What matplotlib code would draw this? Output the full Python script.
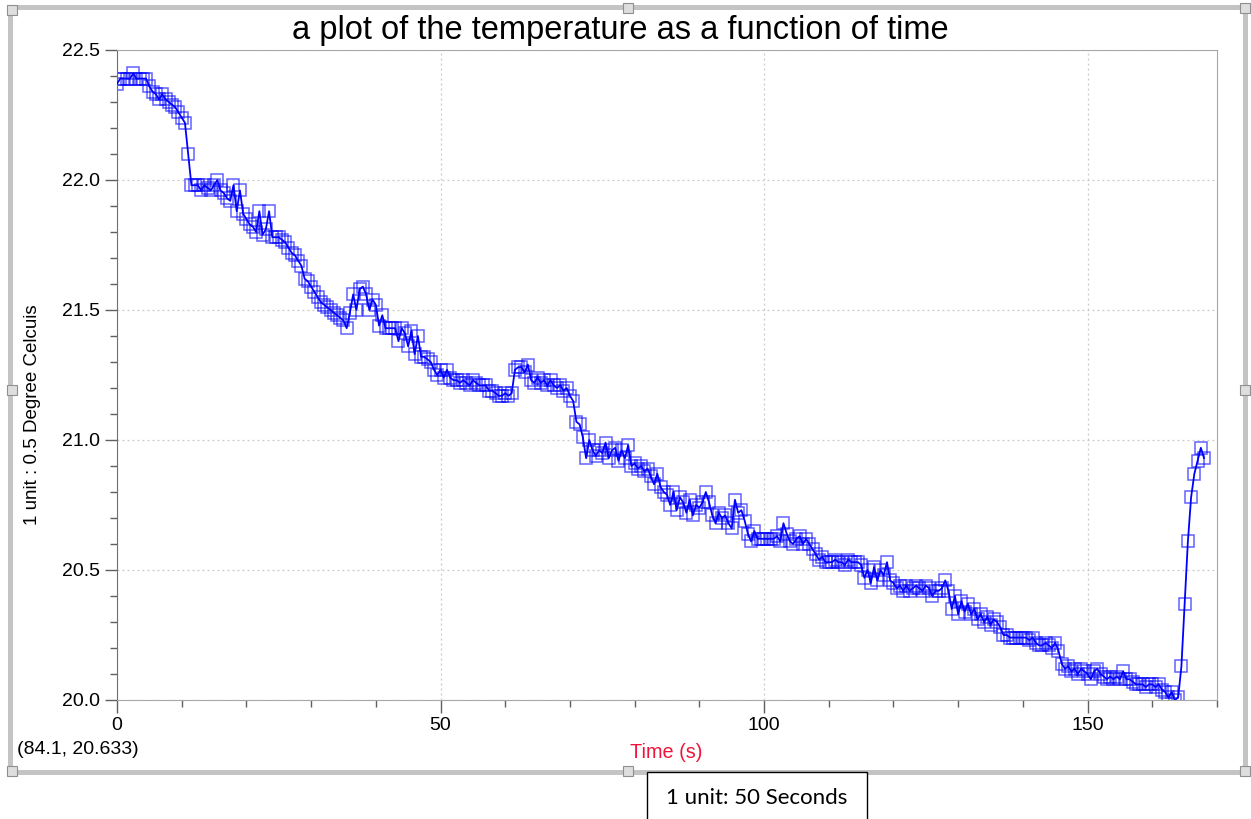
import matplotlib
matplotlib.use("Agg")
import matplotlib.pyplot as plt
from matplotlib.patches import Rectangle
from matplotlib.ticker import MultipleLocator
import numpy as np

plt.rcParams['font.family'] = ['Liberation Sans', 'DejaVu Sans']

W, H = 1251, 819

# temperature readings, one every 0.5 s (deg C)
dt = 0.5
temp_000 = [22.37, 22.39, 22.39, 22.39, 22.39, 22.41, 22.39, 22.39, 22.39, 22.39,
            22.36, 22.34, 22.33, 22.31, 22.33, 22.31, 22.30, 22.29, 22.28, 22.26]
temp_010 = [22.24, 22.22, 22.10, 21.98, 21.98, 21.98, 21.96, 21.98, 21.97, 21.96,
            21.98, 22.00, 21.96, 21.95, 21.93, 21.92, 21.98, 21.88, 21.96, 21.87]
temp_020 = [21.85, 21.83, 21.82, 21.80, 21.88, 21.79, 21.81, 21.88, 21.78, 21.78,
            21.78, 21.77, 21.76, 21.74, 21.72, 21.71, 21.69, 21.67, 21.62, 21.61]
temp_030 = [21.59, 21.57, 21.55, 21.53, 21.52, 21.51, 21.50, 21.49, 21.48, 21.47,
            21.46, 21.43, 21.49, 21.56, 21.50, 21.58, 21.59, 21.56, 21.50, 21.54]
temp_040 = [21.52, 21.44, 21.48, 21.43, 21.43, 21.43, 21.43, 21.38, 21.43, 21.41,
            21.36, 21.42, 21.33, 21.40, 21.32, 21.32, 21.31, 21.30, 21.27, 21.25]
temp_050 = [21.27, 21.24, 21.27, 21.24, 21.23, 21.23, 21.22, 21.23, 21.22, 21.21,
            21.23, 21.22, 21.21, 21.21, 21.21, 21.19, 21.19, 21.18, 21.17, 21.17]
temp_060 = [21.18, 21.17, 21.18, 21.27, 21.28, 21.28, 21.26, 21.29, 21.23, 21.22,
            21.24, 21.22, 21.23, 21.21, 21.23, 21.21, 21.20, 21.21, 21.19, 21.20]
temp_070 = [21.17, 21.15, 21.07, 21.06, 21.01, 20.93, 21.00, 20.96, 20.94, 20.96,
            20.95, 20.99, 20.93, 20.96, 20.97, 20.92, 20.96, 20.93, 20.98, 20.90]
temp_080 = [20.91, 20.89, 20.90, 20.88, 20.89, 20.86, 20.83, 20.87, 20.82, 20.80,
            20.79, 20.75, 20.80, 20.73, 20.78, 20.76, 20.72, 20.77, 20.71, 20.75]
temp_090 = [20.74, 20.76, 20.80, 20.76, 20.71, 20.68, 20.72, 20.70, 20.71, 20.68,
            20.66, 20.77, 20.72, 20.73, 20.69, 20.64, 20.61, 20.65, 20.62, 20.62]
temp_100 = [20.62, 20.62, 20.62, 20.62, 20.63, 20.61, 20.68, 20.64, 20.61, 20.60,
            20.62, 20.63, 20.60, 20.62, 20.60, 20.58, 20.56, 20.54, 20.55, 20.53]
temp_110 = [20.53, 20.53, 20.54, 20.53, 20.53, 20.52, 20.54, 20.53, 20.53, 20.53,
            20.52, 20.47, 20.50, 20.45, 20.51, 20.46, 20.50, 20.48, 20.53, 20.46]
temp_120 = [20.45, 20.43, 20.44, 20.42, 20.44, 20.42, 20.43, 20.44, 20.43, 20.42,
            20.44, 20.43, 20.40, 20.42, 20.42, 20.43, 20.46, 20.42, 20.35, 20.40]
temp_130 = [20.33, 20.38, 20.34, 20.37, 20.33, 20.35, 20.31, 20.33, 20.30, 20.32,
            20.29, 20.31, 20.30, 20.28, 20.25, 20.25, 20.24, 20.24, 20.24, 20.24]
temp_140 = [20.24, 20.24, 20.23, 20.24, 20.22, 20.21, 20.21, 20.22, 20.21, 20.20,
            20.22, 20.19, 20.14, 20.12, 20.13, 20.11, 20.12, 20.10, 20.12, 20.11]
temp_150 = [20.10, 20.08, 20.11, 20.12, 20.10, 20.09, 20.08, 20.09, 20.08, 20.09,
            20.08, 20.11, 20.08, 20.08, 20.07, 20.06, 20.06, 20.06, 20.05, 20.06]
temp_160 = [20.06, 20.05, 20.06, 20.04, 20.03, 20.01, 20.03, 20.00, 20.01, 20.13,
            20.37, 20.61, 20.78, 20.87, 20.92, 20.97, 20.93]

temperature = (temp_000 + temp_010 + temp_020 + temp_030 + temp_040 + temp_050 +
               temp_060 + temp_070 + temp_080 + temp_090 + temp_100 + temp_110 +
               temp_120 + temp_130 + temp_140 + temp_150 + temp_160)
time_s = np.arange(len(temperature)) * dt

x_ticks = [0, 50, 100, 150]
y_ticks = [20.0, 20.5, 21.0, 21.5, 22.0, 22.5]

title = "a plot of the temperature as a function of time"
x_label = "Time (s)"
y_label = "1 unit : 0.5 Degree Celcuis"
cursor_text = "(84.1, 20.633)"
box_text = "1 unit: 50 Seconds"


def fx(px):
    return px / W

def fy(py):
    return 1 - py / H


fig = plt.figure(figsize=(W / 100, H / 100), dpi=100)
ax = fig.add_axes([fx(117), fy(700), fx(1217) - fx(117), fy(50) - fy(700)])

# markers first (lighter), line on top
ax.plot(time_s, temperature, linestyle='None', marker='s', markersize=9.3,
        markerfacecolor='none', markeredgecolor=(0, 0, 1, 0.62), markeredgewidth=1.1, zorder=2)
ax.plot(time_s, temperature, '-', color='#0000ff', linewidth=1.3, zorder=3)

ax.set_xlim(0, 170)
ax.set_ylim(20.0, 22.5)
ax.set_xticks(x_ticks)
ax.set_yticks(y_ticks)
ax.set_yticklabels(["%.1f" % v for v in y_ticks])
ax.xaxis.set_minor_locator(MultipleLocator(10))
ax.yaxis.set_minor_locator(MultipleLocator(0.1))
ax.tick_params(which='major', direction='out', length=9, width=1, color='#606060',
               labelsize=14, pad=3)
ax.tick_params(which='minor', direction='out', length=5, width=1, color='#606060')
ax.grid(True, which='major', linestyle=(0, (1.5, 2.5)), color='#c8c8c8', linewidth=0.9)
ax.spines['left'].set_color('#707070')
for s in ['top', 'right', 'bottom']:
    ax.spines[s].set_color('#a8a8a8')

fig.text(fx(620), fy(30), title, fontsize=23.5, ha='center', va='center')
fig.text(fx(666), fy(752), x_label, fontsize=14.3, color='#f0143c', ha='center', va='center')
fig.text(fx(33), fy(415), y_label, fontsize=13.5, rotation=90, ha='center', va='center')
fig.text(fx(17), fy(749), cursor_text, fontsize=14, ha='left', va='center')

# selection frame round the graph object
frame = Rectangle((fx(10), fy(772)), fx(1245) - fx(10), fy(7) - fy(772), transform=fig.transFigure,
                  fill=False, edgecolor='#c4c4c4', linewidth=3.6, zorder=5)
fig.add_artist(frame)
handles = [(12, 10), (628, 8), (1245, 8), (12, 390), (1245, 390),
           (12, 771), (628, 771), (1245, 771)]
for hx, hy in handles:
    fig.add_artist(Rectangle((fx(hx - 5), fy(hy + 5)), fx(10), 10 / H, transform=fig.transFigure,
                             facecolor='#dedede', edgecolor='#8f8f8f', linewidth=0.8, zorder=6))

# caption box below
fig.add_artist(Rectangle((fx(647), fy(822)), fx(867) - fx(647), 50 / H, transform=fig.transFigure,
                         facecolor='white', edgecolor='black', linewidth=1.0, zorder=7))
fig.text(fx(757), fy(798), box_text, fontsize=16, family=['Lato', 'DejaVu Sans'],
         ha='center', va='center', zorder=8)

fig.savefig("out.png", dpi=100)
plt.close('all')
